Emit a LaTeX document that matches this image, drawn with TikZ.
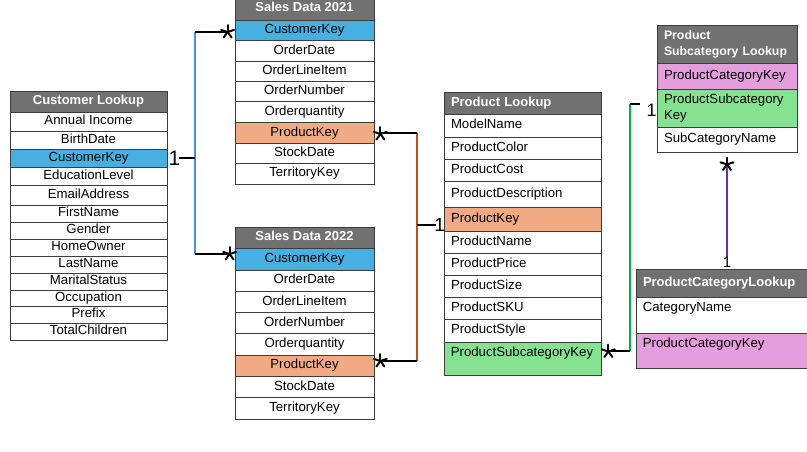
\documentclass[tikz,border=0pt]{standalone}
\usepackage{fontspec}
\setmainfont{Liberation Sans}
\usetikzlibrary{calc}
\definecolor{hdr}{HTML}{717171}
\definecolor{keyblue}{HTML}{45B0E1}
\definecolor{keyorange}{HTML}{F2AA84}
\definecolor{keygreen}{HTML}{84E291}
\definecolor{keypink}{HTML}{E49EDD}
\definecolor{lineblue}{HTML}{4A90D9}
\definecolor{lineorange}{HTML}{C0501A}
\definecolor{linegreen}{HTML}{00B050}
\definecolor{linepurple}{HTML}{7030A0}
\definecolor{cellline}{HTML}{3C3C3C}
\newcommand{\cellfont}{\fontsize{13.2}{15.5}\selectfont}
\newcommand{\hdrfont}{\fontsize{13}{16}\selectfont\bfseries}
% name, x, width, ytop, ybottom, style, text
\newcommand{\cellC}[7]{\node[cellbox,#6,minimum width=#3pt,minimum height={(#5-#4)*1pt},align=center] (#1) at ({#2+#3/2},{(#4+#5)/2}) {#7};}
% name, x, width, ytop, ybottom, style, text, text width
\newcommand{\cellL}[8]{\node[cellbox,#6,minimum width=#3pt,minimum height={(#5-#4)*1pt},text width=#8,inner xsep=7pt,align=left] (#1) at ({#2+#3/2},{(#4+#5)/2}) {#7};}
% top aligned text: name, x, width, ytop, ybottom, style, text
\newcommand{\cellT}[7]{\node[cellbox,#6,minimum width=#3pt,minimum height={(#5-#4)*1pt}] (#1) at ({#2+#3/2},{(#4+#5)/2}) {};
\node[anchor=base west,font=\cellfont,inner sep=0pt] (#1-t) at ($(#1.north west)+(7,15)$) {#7};}
\tikzset{
  cellbox/.style={draw=cellline,line width=0.8pt,fill=white,inner sep=0pt,font=\cellfont,text height=9pt,text depth=2.5pt},
  multiline/.style={text height=,text depth=},
  hdrcell/.style={fill=hdr,text=white,font=\hdrfont},
  smallhdr/.style={font=\fontsize{12.3}{16}\selectfont\bfseries},
  blk/.style={draw=black,line width=2pt},
  blueline/.style={draw=lineblue,line width=2pt},
  orangeline/.style={draw=lineorange,line width=2pt},
  greenline/.style={draw=linegreen,line width=2pt},
  purpleline/.style={draw=linepurple,line width=2pt},
  crowstar/.pic={\foreach \a in {270,342,54,126,198} \draw[line width=2pt,line cap=round] (0,0) -- (\a:6.8);},
  onelabel/.style={inner sep=0pt,text=black}
}
\begin{document}
\begin{tikzpicture}[x=1pt,y=-1pt]
\useasboundingbox (0,0) rectangle (807,451);
\fill[white] (0,0) rectangle (807,451);

% Customer Lookup
\cellC{cu-h}{10}{157}{91}{112}{hdrcell}{Customer Lookup}
\cellC{cu-ai}{10}{157}{112}{131}{}{Annual Income}
\cellC{cu-bd}{10}{157}{131}{149}{}{BirthDate}
\cellC{cu-key}{10}{157}{149}{167}{fill=keyblue}{CustomerKey}
\cellC{cu-el}{10}{157}{167}{185}{}{EducationLevel}
\cellC{cu-ea}{10}{157}{185}{205}{}{EmailAddress}
\cellC{cu-fn}{10}{157}{205}{222}{}{FirstName}
\cellC{cu-g}{10}{157}{222}{239}{}{Gender}
\cellC{cu-ho}{10}{157}{239}{256}{}{HomeOwner}
\cellC{cu-ln}{10}{157}{256}{273}{}{LastName}
\cellC{cu-ms}{10}{157}{273}{290}{}{MaritalStatus}
\cellC{cu-oc}{10}{157}{290}{306}{}{Occupation}
\cellC{cu-pr}{10}{157}{306}{323}{}{Prefix}
\cellC{cu-tc}{10}{157}{323}{340}{}{TotalChildren}

% Sales Data 2021
\cellC{s1-h}{235}{139}{-4}{20}{hdrcell}{Sales Data 2021}
\cellC{s1-ck}{235}{139}{20}{40.7}{fill=keyblue}{CustomerKey}
\cellC{s1-od}{235}{139}{40.7}{61}{}{OrderDate}
\cellC{s1-oli}{235}{139}{61}{81}{}{OrderLineItem}
\cellC{s1-on}{235}{139}{81}{101.7}{}{OrderNumber}
\cellC{s1-oq}{235}{139}{101.7}{122.3}{}{Orderquantity}
\cellC{s1-pk}{235}{139}{122.3}{143.3}{fill=keyorange}{ProductKey}
\cellC{s1-sd}{235}{139}{143.3}{163.3}{}{StockDate}
\cellC{s1-tk}{235}{139}{163.3}{184}{}{TerritoryKey}

% Sales Data 2022
\cellC{s2-h}{235}{139}{227}{248.3}{hdrcell}{Sales Data 2022}
\cellC{s2-ck}{235}{139}{248.3}{270}{fill=keyblue}{CustomerKey}
\cellC{s2-od}{235}{139}{270}{291}{}{OrderDate}
\cellC{s2-oli}{235}{139}{291}{312.7}{}{OrderLineItem}
\cellC{s2-on}{235}{139}{312.7}{333.7}{}{OrderNumber}
\cellC{s2-oq}{235}{139}{333.7}{355}{}{Orderquantity}
\cellC{s2-pk}{235}{139}{355}{376.3}{fill=keyorange}{ProductKey}
\cellC{s2-sd}{235}{139}{376.3}{397.7}{}{StockDate}
\cellC{s2-tk}{235}{139}{397.7}{419}{}{TerritoryKey}

% Product Lookup
\cellL{pl-h}{444}{157}{92}{114}{hdrcell}{Product Lookup}{143pt}
\cellL{pl-mn}{444}{157}{114}{137}{}{ModelName}{143pt}
\cellL{pl-pc}{444}{157}{137}{159}{}{ProductColor}{143pt}
\cellL{pl-cost}{444}{157}{159}{181}{}{ProductCost}{143pt}
\cellL{pl-pd}{444}{157}{181}{207}{}{ProductDescription}{143pt}
\cellL{pl-pk}{444}{157}{207}{231}{fill=keyorange}{ProductKey}{143pt}
\cellL{pl-pn}{444}{157}{231}{253}{}{ProductName}{143pt}
\cellL{pl-pp}{444}{157}{253}{275}{}{ProductPrice}{143pt}
\cellL{pl-ps}{444}{157}{275}{297}{}{ProductSize}{143pt}
\cellL{pl-sku}{444}{157}{297}{319}{}{ProductSKU}{143pt}
\cellL{pl-st}{444}{157}{319}{342}{}{ProductStyle}{143pt}
\cellT{pl-sk}{444}{157}{342}{375}{fill=keygreen}{ProductSubcategoryKey}

% Product Subcategory Lookup
\cellL{sc-h}{657}{140}{25}{63}{hdrcell,smallhdr,multiline}{Product\\Subcategory Lookup}{126pt}
\cellL{sc-ck}{657}{140}{63}{89}{fill=keypink}{ProductCategoryKey}{126pt}
\cellL{sc-sk}{657}{140}{89}{127}{fill=keygreen,multiline}{ProductSubcategory\\Key}{126pt}
\cellL{sc-name}{657}{140}{127}{152}{}{SubCategoryName}{126pt}

% ProductCategoryLookup
\cellL{cat-h}{636}{182}{269}{297}{hdrcell}{ProductCategoryLookup}{168pt}
\cellT{cat-cn}{636}{182}{297}{333}{}{CategoryName}
\cellT{cat-ck}{636}{182}{333}{368}{fill=keypink}{ProductCategoryKey}

% Customer -> Sales (blue)
\coordinate (b-top) at (195,32);
\coordinate (b-mid) at (195,158);
\coordinate (b-bot) at (195,254);
\draw[blueline] (b-top) -- (b-bot);
\draw[blk] ($(cu-key.east)+(12,0)$) -- (b-mid);
\draw[blk] (b-top) -- ($(s1-ck.west |- b-top)+(-6,0)$);
\draw[blk] (b-bot) -- ($(s2-ck.west |- b-bot)+(-6,0)$);
\pic at ($(s1-ck.west |- b-top)+(-7,0)$) {crowstar};
\pic at ($(s2-ck.west |- b-bot)+(-5,0)$) {crowstar};
\node[onelabel,font=\fontsize{21}{21}\selectfont] (one-cu) at ($(cu-key.east)+(7,0)$) {1};

% Product -> Sales (orange)
\coordinate (o-top) at (417,132.5);
\coordinate (o-mid) at (417,225);
\coordinate (o-bot) at (417,360.5);
\draw[orangeline] (o-top) -- (o-bot);
\draw[blk] (o-top) -- ($(s1-pk.east |- o-top)+(6,0)$);
\draw[blk] (o-bot) -- ($(s2-pk.east |- o-bot)+(6,0)$);
\draw[blk] (o-mid) -- ($(pl-pk.west |- o-mid)+(-8,0)$);
\pic at ($(s1-pk.east |- o-top)+(6,1.5)$) {crowstar};
\pic at ($(s2-pk.east |- o-bot)+(6,0.5)$) {crowstar};
\node[onelabel,font=\fontsize{19}{19}\selectfont] (one-pl) at ($(pl-pk.west |- o-mid)+(-4,0)$) {1};

% Subcategory -> Product (green)
\coordinate (g-bot) at (630,350.5);
\coordinate (g-top) at (630,104);
\coordinate (g-tick) at (640,104);
\draw[greenline] (g-bot) -- (g-top);
\draw[blk] (g-bot) -- ($(pl-sk.east |- g-bot)+(7,0)$);
\draw[blk] (g-top) -- (g-tick);
\pic at ($(pl-sk.east |- g-bot)+(7,1)$) {crowstar};
\node[onelabel,font=\fontsize{18}{18}\selectfont] (one-sc) at ($(sc-sk.west)+(-5,2)$) {1};

% Category -> Subcategory (purple)
\draw[purpleline] ($(sc-name.south)+(0,15)$) -- ($(cat-h.north)+(0,-12)$);
\pic at ($(sc-name.south)+(0,12)$) {crowstar};
\node[onelabel,font=\fontsize{15}{15}\selectfont] (one-cat) at ($(cat-h.north)+(0,-6)$) {1};
\end{tikzpicture}
\end{document}
